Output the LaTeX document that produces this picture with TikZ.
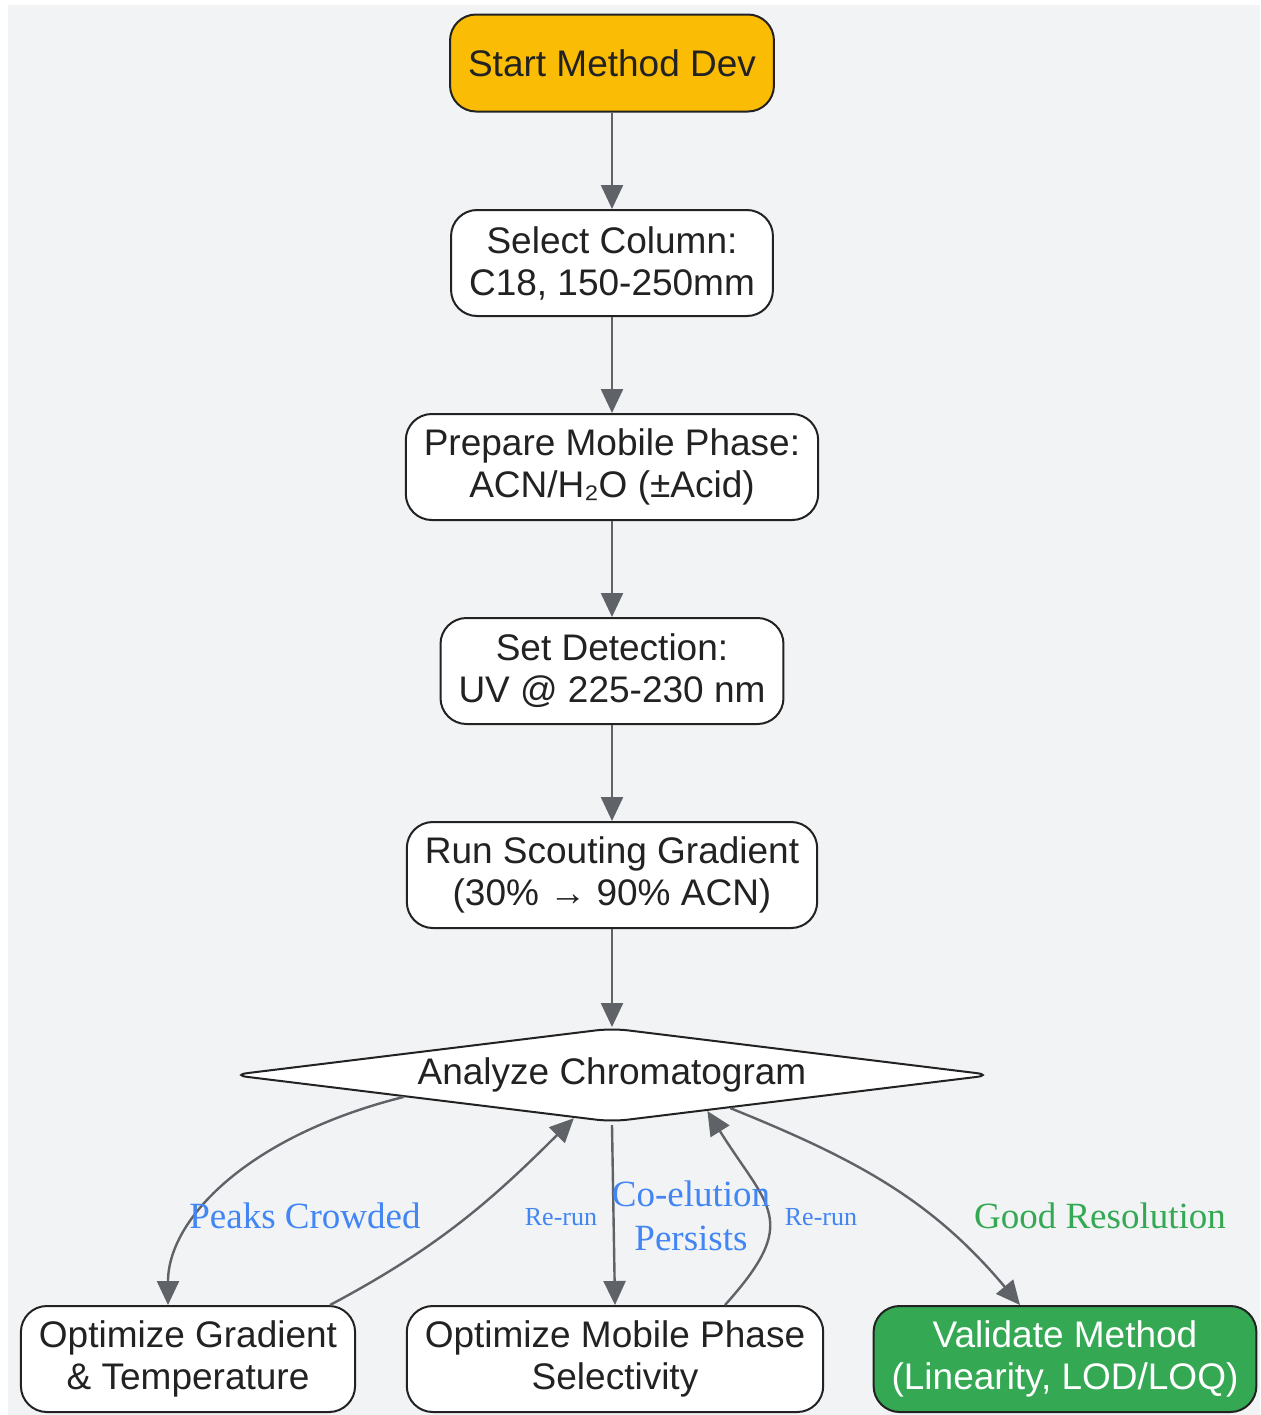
\documentclass[tikz,border=0pt]{standalone}
\usepackage{fontspec}
\setmainfont{Liberation Serif}
\setsansfont{Liberation Sans}
\usetikzlibrary{shapes.geometric,arrows.meta,calc}

\definecolor{bgGray}{HTML}{F1F3F5}
\definecolor{lineDark}{HTML}{222222}
\definecolor{edgeGray}{HTML}{5F6368}
\definecolor{startYellow}{HTML}{FBBC05}
\definecolor{okGreen}{HTML}{34A853}
\definecolor{labelBlue}{HTML}{4285F4}

\begin{document}
\begin{tikzpicture}[
	x=0.5pt, y=-0.5pt,
	cell/.style={
		rectangle,
		rounded corners=13pt,
		draw=lineDark,
		line width=1pt,
		fill=white,
		text=lineDark,
		align=center,
		inner xsep=9pt,
		minimum height=53pt,
		font=\sffamily\fontsize{18.5}{21}\selectfont,
	},
	decision/.style={% flat diamond for the check
		diamond,
		aspect=8,
		rounded corners=8pt,
		draw=lineDark,
		line width=1pt,
		fill=white,
		text=lineDark,
		inner sep=0pt,
		minimum width=380.5pt,
		minimum height=47pt,
		font=\sffamily\fontsize{18.5}{21}\selectfont,
	},
	flow/.style={
		draw=edgeGray,
		line width=1.2pt,
		-{Triangle[length=12pt,width=11pt]},
	},
	elabel/.style={
		text=labelBlue,
		align=center,
		font=\fontsize{18.5}{22}\selectfont,
	},
	elabelsmall/.style={
		text=labelBlue,
		font=\fontsize{13}{15}\selectfont,
	},
]
	\fill [bgGray] (8,5) rectangle (1260,1415);
	\useasboundingbox (0,0) rectangle (1260,1415);

	\node [cell, fill=startYellow, minimum height=48.5pt] (start) at (612,63) {Start Method Dev};
	\node [cell] (column) at (612,263) {Select Column:\\C18, 150-250mm};
	\node [cell] (phase) at (612,467) {Prepare Mobile Phase:\\ACN/H₂O (±Acid)};
	\node [cell] (detect) at (612,671) {Set Detection:\\UV @ 225-230 nm};
	\node [cell] (scout) at (612,875) {Run Scouting Gradient\\(30\% → 90\% ACN)};
	\node [decision] (analyze) at (612,1075) {Analyze Chromatogram};
	\node [cell] (optgrad) at (188,1359) {Optimize Gradient\\\& Temperature};
	\node [cell] (optphase) at (615,1359) {Optimize Mobile Phase\\Selectivity};
	\node [cell, fill=okGreen, text=white] (validate) at (1065,1359) {Validate Method\\(Linearity, LOD/LOQ)};

	\draw [flow] (start) -- (column);
	\draw [flow] (column) -- (phase);
	\draw [flow] (phase) -- (detect);
	\draw [flow] (detect) -- (scout);
	\draw [flow] (scout) -- (analyze);

	% branches below the check
	\draw [flow] ($(analyze.west)!0.455!(analyze.south)$) to[out=194,in=90,out looseness=1.3,in looseness=0.7] ([xshift=-10pt]optgrad.north);
	\draw [flow] ([xshift=71pt]optgrad.north) to[out=28,in=225] ($(analyze.west)!0.9!(analyze.south)$);
	\draw [flow] ([yshift=-1pt]analyze.south) -- (optphase.north);
	\draw [flow] ([xshift=55pt]optphase.north) to[out=48,in=-58,looseness=1.5] ($(analyze.south)!0.25!(analyze.east)$);
	\draw [flow] ($(analyze.south)!0.31!(analyze.east)$) to[out=-22,in=130] ([xshift=-22.5pt]validate.north);

	\node [elabel] (crowded) at (305,1216) {Peaks Crowded};
	\node [elabelsmall] (rerunA) at (561,1217) {Re-run};
	\node [elabel] (coelution) at (691,1216) {Co-elution\\Persists};
	\node [elabelsmall] (rerunB) at (821,1217) {Re-run};
	\node [elabel, text=okGreen] (good) at (1100,1216) {Good Resolution};
\end{tikzpicture}
\end{document}
